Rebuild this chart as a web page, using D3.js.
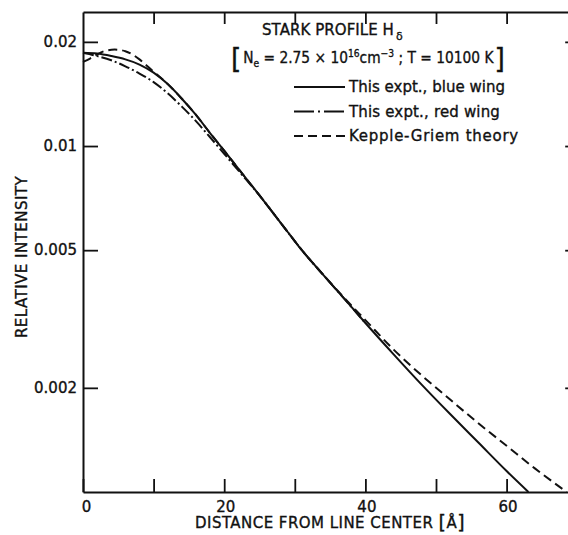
<!DOCTYPE html>
<html>
<head>
<meta charset="utf-8">
<script src="https://cdn.jsdelivr.net/npm/d3@7"></script>
<style>
  html, body { margin: 0; padding: 0; background: #fff; }
  svg { display: block; }
  text { font-family: "DejaVu Sans", sans-serif; fill: #111; stroke: #111; stroke-width: 0.35px; }
</style>
</head>
<body>
<svg id="chart" width="568" height="535"></svg>
<script>
// Stark profile of H-delta: relative intensity vs distance from line center
const blueDist = [0, 2, 4, 6, 8, 10, 12, 14, 16, 18, 20, 22, 25, 28, 31, 34, 37, 40, 44, 48, 52, 56, 60, 63.1];
const blueInt  = [0.0186, 0.0185, 0.0182, 0.0178, 0.0172, 0.0163, 0.0151, 0.0137, 0.0123, 0.0109, 0.0097, 0.0086, 0.0072, 0.0060, 0.0050, 0.00425, 0.00362, 0.00308, 0.00250, 0.00204, 0.00168, 0.00139, 0.00115, 0.0010];

const redDist = [0, 2, 4, 6, 8, 10, 12, 14, 16, 18, 20, 22, 25, 28, 31, 34, 37, 40];
const redInt  = [0.0186, 0.0182, 0.0177, 0.0170, 0.0162, 0.0153, 0.0142, 0.0130, 0.0118, 0.0106, 0.0095, 0.0085, 0.0072, 0.0060, 0.0050, 0.00425, 0.00362, 0.00308];

const theoryDist = [0, 1, 2, 3, 4.5, 6, 7, 8, 9, 10, 12, 14, 16, 18, 20, 22, 25, 28, 31, 34, 37, 40, 44, 48, 52, 56, 60, 64, 68.5];
const theoryInt  = [0.0175, 0.0179, 0.0184, 0.0188, 0.0190, 0.0188, 0.0184, 0.0178, 0.0171, 0.0164, 0.0151, 0.0137, 0.0123, 0.0109, 0.0097, 0.0086, 0.0072, 0.0060, 0.0050, 0.00425, 0.00364, 0.00314, 0.00258, 0.00217, 0.00185, 0.00158, 0.00136, 0.00117, 0.0010];

const xTickValues = [0, 10, 20, 30, 40, 50, 60];
const xTickLabels = ["0", "", "20", "", "40", "", "60"];
const yTickValues = [0.002, 0.005, 0.01, 0.02];
const yTickLabels = ["0.002", "0.005", "0.01", "0.02"];

const legendLabels = ["This expt., blue wing", "This expt., red wing", "Kepple-Griem theory"];

const svg = d3.select("#chart");
const ink = "#111";

const x = d3.scaleLinear().domain([0, 70]).range([83, 577.2]);
const y = d3.scaleLog().domain([0.001, 0.0244]).range([492, 12]);

// axes: ticks point into the plot
const axisStyle = g => {
  g.select(".domain").attr("stroke", ink).attr("stroke-width", 2);
  g.selectAll(".tick line").attr("stroke", ink).attr("stroke-width", 1.8);
  g.selectAll(".tick text").attr("fill", ink).style("font-size", "15px")
    .style("font-family", "'DejaVu Sans', sans-serif");
};

svg.append("g")
  .attr("transform", `translate(0,${y.range()[0]})`)
  .call(d3.axisBottom(x).tickValues(xTickValues)
    .tickFormat((d, i) => xTickLabels[i]).tickSize(-13).tickSizeOuter(0).tickPadding(9))
  .call(axisStyle)
  .call(g => g.selectAll(".tick text").attr("dx", d => d === 0 ? 3 : 1));

svg.append("g")
  .attr("transform", `translate(0,${y.range()[1]})`)
  .call(d3.axisTop(x).tickValues(xTickValues.slice(1)).tickFormat("").tickSize(-12).tickSizeOuter(0))
  .call(axisStyle);

svg.append("g")
  .attr("transform", `translate(${x.range()[0]},0)`)
  .call(d3.axisLeft(y).tickValues(yTickValues)
    .tickFormat((d, i) => yTickLabels[i]).tickSize(-15).tickSizeOuter(0).tickPadding(6))
  .call(axisStyle);

svg.append("g")
  .attr("transform", `translate(${x.range()[1]},0)`)
  .call(d3.axisRight(y).tickValues(yTickValues).tickFormat("").tickSize(-12).tickSizeOuter(0))
  .call(axisStyle);

// curves
const line = d3.line().x(d => x(d[0])).y(d => y(d[1])).curve(d3.curveMonotoneX);
const series = [
  { dist: blueDist, val: blueInt, dash: null },
  { dist: redDist, val: redInt, dash: "11,3,2,3" },
  { dist: theoryDist, val: theoryInt, dash: "9,5" }
];
series.forEach(s => {
  svg.append("path")
    .datum(s.dist.map((d, i) => [d, s.val[i]]))
    .attr("d", line)
    .attr("fill", "none")
    .attr("stroke", ink)
    .attr("stroke-width", 2)
    .attr("stroke-dasharray", s.dash);
});

// spread letters so a text block spans the given width
function fitSpacing(sel, width) {
  const w = sel.node().getBBox().width;
  const n = sel.text().length;
  sel.style("letter-spacing", ((width - w) / n) + "px");
}
// squeeze a text block horizontally to a given width
function fitWidth(sel, left, width) {
  const w = sel.node().getBBox().width;
  const k = width / w;
  sel.attr("transform", `translate(${left},0) scale(${k},1) translate(${-left},0)`);
}

// heading
const title = svg.append("text").attr("x", 262).attr("y", 35).style("font-size", "15px");
title.append("tspan").text("STARK PROFILE H");
title.append("tspan").text("δ").style("font-size", "11px").attr("dy", 5).attr("dx", 2);
fitSpacing(title, 141);

const cond = svg.append("text").attr("x", 231).attr("y", 69);
cond.append("tspan").text("[").style("font-size", "29px");
cond.append("tspan").text("N").style("font-size", "15px").attr("dy", -6).attr("dx", 2);
cond.append("tspan").text("e").style("font-size", "10px").attr("dy", 4);
cond.append("tspan").text(" = 2.75 × 10").style("font-size", "15px").attr("dy", -4);
cond.append("tspan").text("16").style("font-size", "10px").attr("dy", -6);
cond.append("tspan").text("cm").style("font-size", "15px").attr("dy", 6);
cond.append("tspan").text("−3").style("font-size", "10px").attr("dy", -6);
cond.append("tspan").text(" ; T = 10100 K").style("font-size", "15px").attr("dy", 6);
cond.append("tspan").text("]").style("font-size", "29px").attr("dy", 6).attr("dx", 1);
fitWidth(cond, 231, 274);

// legend
const legendDash = [null, "20,4,2,4,20", "9,5"];
const legendWidths = [157, 152, 170];
legendLabels.forEach((lab, i) => {
  const ly = 87 + i * 24.5;
  svg.append("line")
    .attr("x1", 294).attr("x2", 345).attr("y1", ly).attr("y2", ly)
    .attr("stroke", ink).attr("stroke-width", 2)
    .attr("stroke-dasharray", legendDash[i]);
  const t = svg.append("text").attr("x", 349).attr("y", ly + 5).style("font-size", "15px").text(lab);
  fitSpacing(t, legendWidths[i]);
});

// axis titles
const xt = svg.append("text").attr("x", 195).attr("y", 528).style("font-size", "15px");
xt.append("tspan").text("DISTANCE FROM LINE CENTER ");
xt.append("tspan").text("[").style("font-size", "19px").attr("dy", 1);
xt.append("tspan").text("Å").style("font-size", "15px").attr("dy", -1);
xt.append("tspan").text("]").style("font-size", "19px").attr("dy", 1);
fitSpacing(xt, 270);

const yt = svg.append("text")
  .attr("transform", "translate(27,257) rotate(-90)")
  .attr("text-anchor", "middle")
  .style("font-size", "15px")
  .text("RELATIVE INTENSITY");
fitSpacing(yt, 163);
</script>
</body>
</html>
